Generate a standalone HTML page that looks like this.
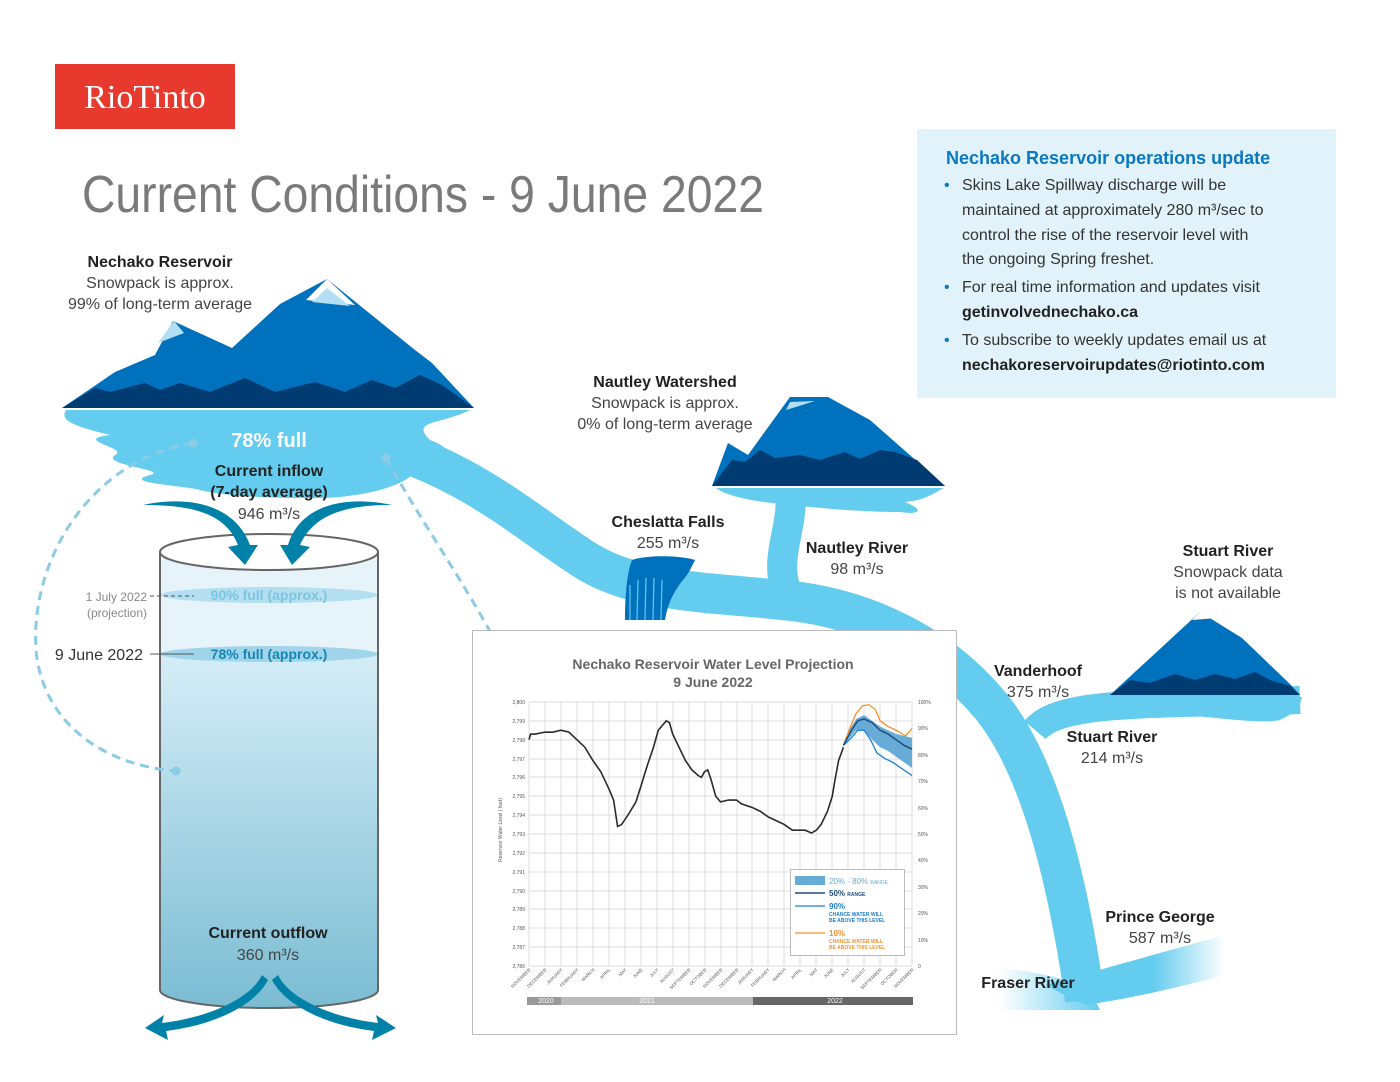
<!DOCTYPE html>
<html><head><meta charset="utf-8"><style>
html,body{margin:0;padding:0;background:#fff;}
svg{display:block;font-family:"Liberation Sans",sans-serif;}
</style></head><body>
<svg width="1400" height="1082" viewBox="0 0 1400 1082" xmlns="http://www.w3.org/2000/svg">
<defs>
<linearGradient id="cyl" x1="0" y1="0" x2="0" y2="1">
<stop offset="0" stop-color="#e6f4fa"/><stop offset="0.25" stop-color="#d2ecf5"/><stop offset="1" stop-color="#7bbcd3"/>
</linearGradient>
<linearGradient id="fr" x1="0" y1="0" x2="1" y2="0">
<stop offset="0" stop-color="#64ccef"/><stop offset="0.6" stop-color="#64ccef"/><stop offset="1" stop-color="#64ccef" stop-opacity="0"/>
</linearGradient>
<linearGradient id="fl" x1="1" y1="0" x2="0" y2="0">
<stop offset="0" stop-color="#64ccef"/><stop offset="1" stop-color="#64ccef" stop-opacity="0"/>
</linearGradient>
</defs>

<rect x="55" y="64" width="180" height="65" fill="#e8392e"/>
<text x="145" y="108" text-anchor="middle" font-family="Liberation Serif,serif" font-size="34" fill="#fff">RioTinto</text>

<text x="82" y="212" font-size="52" fill="#7a7a7a" textLength="682" lengthAdjust="spacingAndGlyphs">Current Conditions - 9 June 2022</text>

<rect x="917" y="129" width="419" height="269" fill="#e1f2fa"/>
<text x="946" y="164" font-size="18" font-weight="bold" fill="#0a78c0">Nechako Reservoir operations update</text>
<g font-size="16" fill="#333">
<text x="944" y="190" fill="#0a78c0">•</text>
<text x="962" y="190">Skins Lake Spillway discharge will be</text>
<text x="962" y="215">maintained at approximately 280 m³/sec to</text>
<text x="962" y="240">control the rise of the reservoir level with</text>
<text x="962" y="264">the ongoing Spring freshet.</text>
<text x="944" y="292" fill="#0a78c0">•</text>
<text x="962" y="292">For real time information and updates visit</text>
<text x="962" y="317" font-weight="bold" fill="#222">getinvolvednechako.ca</text>
<text x="944" y="345" fill="#0a78c0">•</text>
<text x="962" y="345">To subscribe to weekly updates email us at</text>
<text x="962" y="370" font-weight="bold" fill="#222">nechakoreservoirupdates@riotinto.com</text>
</g>

<g fill="none" stroke="#64ccef" stroke-linecap="butt">
<path d="M380 445 C470 470 530 525 585 560 C640 595 720 592 800 602 C870 612 940 645 990 705 C1040 765 1068 880 1085 1000" stroke-width="40"/>
<path d="M790 490 C795 530 770 560 790 600" stroke-width="30"/>
<path d="M1035 730 C1060 700 1150 705 1300 700" stroke-width="28"/>
</g>
<path d="M1045 985 C1100 970 1170 950 1225 935 L1225 975 C1170 990 1120 1000 1085 1005 Z" fill="url(#fr)"/>
<path d="M1090 990 C1060 975 1020 970 1000 968 L1000 1010 L1100 1010 Z" fill="url(#fl)"/>

<path d="M66 410 L470 410 C440 425 410 420 430 440 C470 455 420 460 415 470 C410 485 360 500 300 498 C260 498 220 495 200 490 C180 485 120 483 150 475 C170 470 100 465 115 455 C130 448 70 440 110 435 C70 425 60 420 66 410 Z" fill="#64ccef"/>
<path d="M62 408 L115 372 L155 355 L173 321 L232 348 L280 304 L327 279 L415 350 L432 363 L474 408 Z" fill="#0071bc"/>
<path d="M62 408 L95 388 L110 392 L145 383 L160 390 L180 383 L210 392 L245 378 L275 392 L315 382 L345 392 L372 380 L395 388 L420 375 L442 385 L474 408 Z" fill="#003b72"/>
<path d="M174 321 L158 343 L184 333 Z" fill="#b3def3"/>
<path d="M327 279 L306 300 L355 305 Z" fill="#fff"/>
<path d="M327 288 L312 302 L350 306 Z" fill="#b3def3"/>
<line x1="62" y1="409" x2="474" y2="409" stroke="#fff" stroke-width="1.5"/>

<path d="M716 488 L944 488 C930 495 925 500 905 502 C925 510 920 515 900 512 C860 512 820 508 790 505 C760 502 730 498 716 488 Z" fill="#64ccef"/>
<path d="M712 486 L728 443 L748 455 L790 397 L828 397 L870 420 L945 486 Z" fill="#0071bc"/>
<path d="M712 486 L732 460 L745 462 L760 450 L775 458 L800 455 L820 460 L845 452 L860 459 L880 450 L895 452 L917 460 L945 486 Z" fill="#003b72"/>
<path d="M790 402 L786 410 L815 401 Z" fill="#b3def3"/>

<path d="M1110 697 L1302 697 C1300 710 1290 715 1280 720 C1260 725 1200 715 1150 712 C1120 710 1110 705 1110 697 Z" fill="#64ccef"/>
<path d="M1110 695 L1200 612 L1242 638 L1292 686 L1300 695 Z" fill="#0071bc"/>
<path d="M1110 695 L1130 680 L1150 683 L1175 674 L1195 680 L1215 674 L1235 679 L1255 672 L1270 680 L1290 686 L1300 695 Z" fill="#003b72"/>
<path d="M1200 612 L1192 620 L1230 617 Z" fill="#fff"/>

<path d="M632 560 C645 555 680 555 695 560 L690 570 C685 580 670 590 665 620 L625 620 C625 590 628 570 632 560 Z" fill="#0071bc"/>
<g stroke="#64ccef" stroke-width="1.2">
<line x1="630" y1="585" x2="630" y2="620"/><line x1="638" y1="580" x2="637" y2="620"/><line x1="646" y1="578" x2="645" y2="620"/><line x1="654" y1="578" x2="653" y2="620"/><line x1="662" y1="580" x2="661" y2="620"/>
</g>

<path d="M160 552 L160 990 A109 18 0 0 0 378 990 L378 552 Z" fill="url(#cyl)"/>
<rect x="160" y="552" width="218" height="100" fill="#e6f4fa"/>
<ellipse cx="269" cy="595" rx="109" ry="8" fill="#b3dff0"/>
<ellipse cx="269" cy="654" rx="109" ry="8" fill="#9fd4ea"/>
<path d="M160 552 L160 990 A109 18 0 0 0 378 990 L378 552" fill="none" stroke="#666" stroke-width="2"/>
<ellipse cx="269" cy="552" rx="109" ry="18" fill="#fff" stroke="#666" stroke-width="2"/>
<text x="269" y="600" text-anchor="middle" font-size="14" font-weight="bold" fill="#7cc5e0">90% full (approx.)</text>
<text x="269" y="659" text-anchor="middle" font-size="14" font-weight="bold" fill="#1686b0">78% full (approx.)</text>
<line x1="150" y1="596" x2="194" y2="596" stroke="#555" stroke-dasharray="4,3"/>
<line x1="150" y1="654" x2="194" y2="654" stroke="#555"/>
<text x="147" y="601" text-anchor="end" font-size="12" fill="#888">1 July 2022</text>
<text x="147" y="617" text-anchor="end" font-size="12" fill="#888">(projection)</text>
<text x="143" y="660" text-anchor="end" font-size="16" fill="#333">9 June 2022</text>

<g fill="#0081a8">
<path d="M143 505 C190 495 235 505 250 545 L258 545 L245 565 L228 547 L238 545 C225 512 190 505 143 505 Z"/>
<path d="M392 505 C345 495 300 505 288 545 L280 545 L292 565 L310 547 L300 545 C315 512 350 505 392 505 Z"/>
<path d="M262 975 C250 1000 205 1018 162 1023 L164 1015 L145 1028 L168 1040 L166 1031 C215 1025 255 1005 268 980 Z"/>
<path d="M278 975 C290 1000 335 1018 378 1023 L376 1015 L396 1028 L372 1040 L374 1031 C325 1025 285 1005 272 980 Z"/>
</g>

<g fill="none" stroke="#8ccbe6" stroke-width="3" stroke-dasharray="9,6">
<path d="M193 443 C90 460 30 560 36 650 C42 720 100 765 176 771"/>
<path d="M386 458 C420 520 470 590 508 665"/>
</g>
<g fill="#8ccbe6"><circle cx="193" cy="443" r="4.5"/><circle cx="176" cy="771" r="4.5"/><circle cx="386" cy="458" r="4.5"/><circle cx="508" cy="665" r="4.5"/></g>

<g text-anchor="middle" fill="#222">
<text x="160" y="267" font-size="16" font-weight="bold">Nechako Reservoir</text>
<text x="160" y="288" font-size="16" fill="#444">Snowpack is approx.</text>
<text x="160" y="309" font-size="16" fill="#444">99% of long-term average</text>
<text x="269" y="447" font-size="20" font-weight="bold" fill="#fff">78% full</text>
<text x="269" y="476" font-size="16" font-weight="bold">Current inflow</text>
<text x="269" y="497" font-size="16" font-weight="bold">(7-day average)</text>
<text x="269" y="519" font-size="16" fill="#444">946 m³/s</text>
<text x="268" y="938" font-size="16" font-weight="bold">Current outflow</text>
<text x="268" y="960" font-size="16" fill="#444">360 m³/s</text>
<text x="665" y="387" font-size="16" font-weight="bold">Nautley Watershed</text>
<text x="665" y="408" font-size="16" fill="#444">Snowpack is approx.</text>
<text x="665" y="429" font-size="16" fill="#444">0% of long-term average</text>
<text x="668" y="527" font-size="16" font-weight="bold">Cheslatta Falls</text>
<text x="668" y="548" font-size="16" fill="#444">255 m³/s</text>
<text x="857" y="553" font-size="16" font-weight="bold">Nautley River</text>
<text x="857" y="574" font-size="16" fill="#444">98 m³/s</text>
<text x="1228" y="556" font-size="16" font-weight="bold">Stuart River</text>
<text x="1228" y="577" font-size="16" fill="#444">Snowpack data</text>
<text x="1228" y="598" font-size="16" fill="#444">is not available</text>
<text x="1038" y="676" font-size="16" font-weight="bold">Vanderhoof</text>
<text x="1038" y="697" font-size="16" fill="#444">375 m³/s</text>
<text x="1112" y="742" font-size="16" font-weight="bold">Stuart River</text>
<text x="1112" y="763" font-size="16" fill="#444">214 m³/s</text>
<text x="1160" y="922" font-size="16" font-weight="bold">Prince George</text>
<text x="1160" y="943" font-size="16" fill="#444">587 m³/s</text>
<text x="1028" y="988" font-size="16" font-weight="bold">Fraser River</text>
</g>

<rect x="472.5" y="630.5" width="484" height="404" fill="#fff" stroke="#bbb"/>
<text x="713" y="669" text-anchor="middle" font-size="14" font-weight="bold" fill="#666">Nechako Reservoir Water Level Projection</text>
<text x="713" y="687" text-anchor="middle" font-size="14" font-weight="bold" fill="#666">9 June 2022</text>
<g stroke="#dcdcdc" stroke-width="1">
<path d="M529 702V966M545 702V966M561 702V966M577 702V966M593 702V966M609 702V966M625 702V966M641 702V966M657 702V966M673 702V966M689 702V966M705 702V966M721 702V966M737 702V966M752 702V966M768 702V966M784 702V966M800 702V966M816 702V966M832 702V966M848 702V966M864 702V966M880 702V966M896 702V966M912 702V966"/>
<path d="M529 702H912M529 721H912M529 740H912M529 759H912M529 777H912M529 796H912M529 815H912M529 834H912M529 853H912M529 872H912M529 891H912M529 909H912M529 928H912M529 947H912M529 966H912"/>
</g>
<g font-size="5" fill="#555" text-anchor="end">
<text x="525" y="704">2,800</text><text x="525" y="723">2,799</text><text x="525" y="742">2,798</text><text x="525" y="761">2,797</text><text x="525" y="779">2,796</text><text x="525" y="798">2,795</text><text x="525" y="817">2,794</text><text x="525" y="836">2,793</text><text x="525" y="855">2,792</text><text x="525" y="874">2,791</text><text x="525" y="893">2,790</text><text x="525" y="911">2,789</text><text x="525" y="930">2,788</text><text x="525" y="949">2,787</text><text x="525" y="968">2,786</text>
</g>
<text transform="translate(502,830) rotate(-90)" font-size="5" fill="#555" text-anchor="middle">Reservoir Water Level ( feet)</text>
<g font-size="5" fill="#555">
<text x="918" y="704">100%</text><text x="918" y="730">90%</text><text x="918" y="757">80%</text><text x="918" y="783">70%</text><text x="918" y="810">60%</text><text x="918" y="836">50%</text><text x="918" y="862">40%</text><text x="918" y="889">30%</text><text x="918" y="915">20%</text><text x="918" y="942">10%</text><text x="918" y="968">0</text>
</g>
<g font-size="4.5" fill="#555" text-anchor="end">
<text transform="translate(531,970) rotate(-45)">NOVEMBER</text><text transform="translate(547,970) rotate(-45)">DECEMBER</text><text transform="translate(563,970) rotate(-45)">JANUARY</text><text transform="translate(579,970) rotate(-45)">FEBRUARY</text><text transform="translate(595,970) rotate(-45)">MARCH</text><text transform="translate(611,970) rotate(-45)">APRIL</text><text transform="translate(627,970) rotate(-45)">MAY</text><text transform="translate(643,970) rotate(-45)">JUNE</text><text transform="translate(659,970) rotate(-45)">JULY</text><text transform="translate(675,970) rotate(-45)">AUGUST</text><text transform="translate(691,970) rotate(-45)">SEPTEMBER</text><text transform="translate(707,970) rotate(-45)">OCTOBER</text><text transform="translate(723,970) rotate(-45)">NOVEMBER</text><text transform="translate(739,970) rotate(-45)">DECEMBER</text><text transform="translate(754,970) rotate(-45)">JANUARY</text><text transform="translate(770,970) rotate(-45)">FEBRUARY</text><text transform="translate(786,970) rotate(-45)">MARCH</text><text transform="translate(802,970) rotate(-45)">APRIL</text><text transform="translate(818,970) rotate(-45)">MAY</text><text transform="translate(834,970) rotate(-45)">JUNE</text><text transform="translate(850,970) rotate(-45)">JULY</text><text transform="translate(866,970) rotate(-45)">AUGUST</text><text transform="translate(882,970) rotate(-45)">SEPTEMBER</text><text transform="translate(898,970) rotate(-45)">OCTOBER</text><text transform="translate(914,970) rotate(-45)">NOVEMBER</text>
</g>
<rect x="527" y="997" width="34" height="8" fill="#999"/>
<rect x="561" y="997" width="192" height="8" fill="#bbb"/>
<rect x="753" y="997" width="160" height="8" fill="#666"/>
<g font-size="7" fill="#fff" text-anchor="middle"><text x="546" y="1003">2020</text><text x="647" y="1003">2021</text><text x="835" y="1003">2022</text></g>

<g transform="translate(529,966) scale(15.96,-18.86) translate(0,-2786)">
<polygon fill="#67acd6" points="19.7,2797.7 20,2798.4 20.5,2799.1 21,2799.3 21.5,2799.0 22,2798.7 22.5,2798.5 23,2798.3 24,2798.1 24,2796.5 23,2797.1 22.5,2797.4 22,2797.6 21.5,2798.0 21,2798.5 20.5,2798.5 20,2798.0"/>
<polyline fill="none" stroke="#f7902a" stroke-width="1.3" vector-effect="non-scaling-stroke" points="19.7,2797.7 20.1,2798.6 20.5,2799.4 20.9,2799.8 21.3,2799.85 21.7,2799.6 22,2799.0 22.5,2798.7 23,2798.5 23.6,2798.2 24,2798.6"/>
<polyline fill="none" stroke="#1a7fd0" stroke-width="1.3" vector-effect="non-scaling-stroke" points="19.7,2797.7 20.2,2798.1 20.6,2798.5 21,2798.5 21.4,2798.0 21.8,2797.3 22.3,2797.0 22.8,2796.8 23.3,2796.5 24,2796.1"/>
<polyline fill="none" stroke="#1e4c7e" stroke-width="1.5" vector-effect="non-scaling-stroke" points="19.7,2797.7 20.2,2798.5 20.6,2799.0 21,2799.1 21.5,2798.9 22,2798.5 22.5,2798.3 23,2798.0 23.5,2797.7 24,2797.5"/>
<polyline fill="none" stroke="#2a2a2a" stroke-width="1.6" vector-effect="non-scaling-stroke" points="0,2798.0 0.1,2798.3 0.4,2798.3 1,2798.4 1.5,2798.4 2,2798.5 2.5,2798.4 3,2798.0 3.5,2797.6 4,2796.9 4.5,2796.3 5,2795.4 5.3,2794.8 5.55,2793.4 5.8,2793.5 6.2,2794.0 6.7,2794.7 7,2795.5 7.4,2796.6 7.8,2797.6 8.1,2798.5 8.4,2798.8 8.6,2799.0 8.8,2798.9 9,2798.3 9.4,2797.6 9.8,2796.9 10.2,2796.4 10.6,2796.1 10.8,2796.0 11,2796.3 11.2,2796.4 11.4,2795.9 11.7,2795.0 12,2794.7 12.5,2794.8 13,2794.8 13.3,2794.6 14,2794.4 14.5,2794.2 15,2793.9 15.5,2793.7 16,2793.5 16.5,2793.2 17,2793.2 17.3,2793.2 17.7,2793.05 18,2793.2 18.3,2793.5 18.7,2794.2 19,2795.0 19.2,2796.0 19.4,2796.9 19.7,2797.6"/>
</g>
<rect x="790.5" y="869.5" width="114" height="86" fill="#fff" stroke="#bbb"/>
<rect x="795" y="876" width="30" height="9" fill="#67acd6"/>
<text x="829" y="884" font-size="8" fill="#67acd6">20% - 80% <tspan font-size="5">RANGE</tspan></text>
<line x1="795" y1="893" x2="825" y2="893" stroke="#1e4c7e" stroke-width="1.5"/>
<text x="829" y="896" font-size="8" font-weight="bold" fill="#1e4c7e">50% <tspan font-size="5">RANGE</tspan></text>
<line x1="795" y1="906" x2="825" y2="906" stroke="#1a7fd0" stroke-width="1.3"/>
<text x="829" y="909" font-size="8" font-weight="bold" fill="#1a7fd0">90%</text>
<text x="829" y="916" font-size="5" font-weight="bold" fill="#1a7fd0">CHANCE WATER WILL</text>
<text x="829" y="922" font-size="5" font-weight="bold" fill="#1a7fd0">BE ABOVE THIS LEVEL</text>
<line x1="795" y1="933" x2="825" y2="933" stroke="#f7902a" stroke-width="1.3"/>
<text x="829" y="936" font-size="8" font-weight="bold" fill="#f7902a">10%</text>
<text x="829" y="943" font-size="5" font-weight="bold" fill="#f7902a">CHANCE WATER WILL</text>
<text x="829" y="949" font-size="5" font-weight="bold" fill="#f7902a">BE ABOVE THIS LEVEL</text>
</svg>
</body></html>
